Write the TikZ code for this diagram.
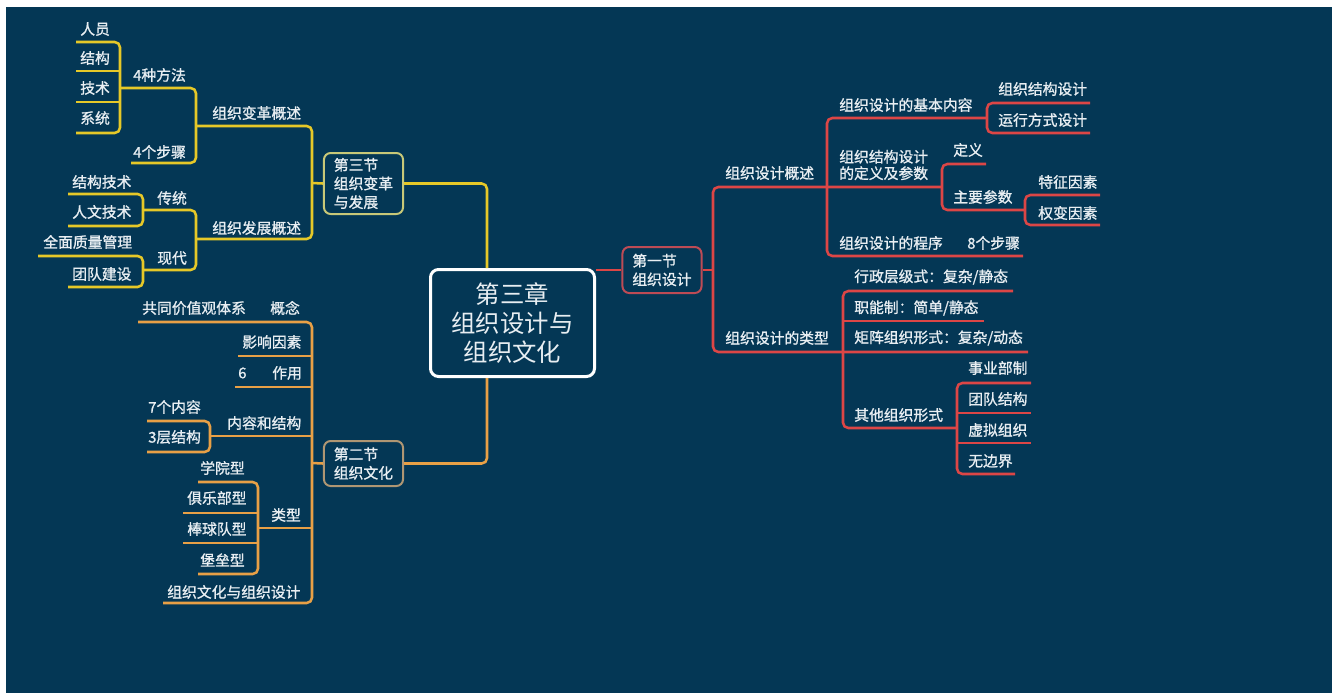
\documentclass[tikz,border=0pt]{standalone}
\usepackage{fontspec}
\newfontfamily\cjk[FakeBold=1.1]{Noto Sans CJK SC}
\newfontfamily\cjkl{Noto Sans CJK SC}
\definecolor{bg}{RGB}{4,55,85}
\definecolor{txt}{RGB}{232,238,242}
\definecolor{yl}{RGB}{230,200,40}
\definecolor{og}{RGB}{232,160,70}
\definecolor{rdc}{RGB}{220,70,70}
\definecolor{yb}{RGB}{200,200,120}
\definecolor{ob}{RGB}{175,150,115}
\definecolor{rb}{RGB}{190,75,85}
\tikzset{
 lbl/.style={anchor=west, inner sep=0pt, text=txt, font=\cjk\fontsize{11.1}{12.4}\selectfont},
 ylw/.style={draw=yl, line width=1.9pt, rounded corners=4pt},
 org/.style={draw=og, line width=1.9pt, rounded corners=4pt},
 rdl/.style={draw=rdc, line width=1.9pt, rounded corners=4pt},
 secbox/.style={draw=#1, line width=1.5pt, rounded corners=5pt, fill=bg, text=txt,
   align=left, text width=44.5pt, inner xsep=7.4pt, inner ysep=0pt,
   font=\cjk\fontsize{11.1}{14}\selectfont},
 mainbox/.style={draw=white, line width=2.25pt, rounded corners=6pt, fill=bg, text=txt,
   align=center, minimum width=123pt, minimum height=80.25pt, inner sep=0pt,
   font=\cjkl\fontsize{18.3}{21.75}\selectfont}
}
\begin{document}
\begin{tikzpicture}[x=0.75pt,y=-0.75pt]
\useasboundingbox (0,0) rectangle (1332,693);
\fill[white] (0,0) rectangle (1332,693);
\fill[bg] (6,7) rectangle (1332,693);

% central and section nodes
\node[mainbox] (M) at (512.5,323) {第三章\\组织设计与\\组织文化};
\node[secbox=yb, minimum height=45.75pt] (S3) at (363.5,183.5) {第三节\\组织变革\\与发展};
\node[secbox=ob, minimum height=33.75pt] (S2) at (363.5,463.5) {第二节\\组织文化};
\node[secbox=rb, minimum height=34.5pt] (S1) at (662,270) {第一节\\组织设计};
\coordinate (yx) at (487,0);
\coordinate (rv) at (713,0);

% main connectors
\draw[ylw] (S3.east) -| (M.north -| yx);
\draw[org] (S2.east) -| (M.south -| yx);
\draw[rdl] (S1.west) -- (S1.west -| M.east);
\draw[rdl] (S1.east) -- (S1.east -| rv);

% ---------- right side (red) ----------
\node[lbl] (r1) at (725,173) {组织设计概述};
\node[lbl] (r2) at (725,338) {组织设计的类型};
\node[lbl] (r11) at (839,105) {组织设计的基本内容};
\node[lbl, align=left] (r12) at (839,165) {组织结构设计\\的定义及参数};
\node[lbl] (r13) at (839,243) {组织设计的程序};
\node[lbl] (r131) at (967,243) {8个步骤};
\node[lbl] (r111) at (998,89) {组织结构设计};
\node[lbl] (r112) at (998,120) {运行方式设计};
\node[lbl] (r121) at (953,150) {定义};
\node[lbl] (r122) at (953,197) {主要参数};
\node[lbl] (r1221) at (1038,182) {特征因素};
\node[lbl] (r1222) at (1038,213) {权变因素};
\node[lbl] (r21) at (854,277) {行政层级式：复杂/静态};
\node[lbl] (r22) at (854,308) {职能制：简单/静态};
\node[lbl] (r23) at (854,338) {矩阵组织形式：复杂/动态};
\node[lbl] (r24) at (854,415) {其他组织形式};
\node[lbl] (r241) at (968,368) {事业部制};
\node[lbl] (r242) at (968,399) {团队结构};
\node[lbl] (r243) at (968,430) {虚拟组织};
\node[lbl] (r244) at (968,461) {无边界};

\draw[rdl] (942,187) -- (713,187) -- (713,352) -- (1028,352);
\draw[rdl] (987,118) -- (827,118) -- (827,256) -- (1023,256);
\draw[rdl] (1090,103) -- (987,103) -- (987,133) -- (1090,133);
\draw[rdl] (986,164) -- (942,164) -- (942,210) -- (1025,210);
\draw[rdl] (1100,195) -- (1025,195) -- (1025,225) -- (1100,225);
\draw[rdl] (1013,291) -- (843,291) -- (843,428) -- (957,428);
\draw[rdl] (843,321) -- (984,321);
\draw[rdl] (1031,383) -- (957,383) -- (957,474) -- (1015,474);
\draw[rdl] (957,413) -- (1031,413);
\draw[rdl] (957,443) -- (1031,443);

% ---------- left top (yellow) ----------
\node[lbl] (y1) at (212,113) {组织变革概述};
\node[lbl] (y2) at (212,228) {组织发展概述};
\node[lbl] (y11) at (133,75) {4种方法};
\node[lbl] (y12) at (133,152) {4个步骤};
\node[lbl] (y111) at (80,29) {人员};
\node[lbl] (y112) at (80,58) {结构};
\node[lbl] (y113) at (80,88) {技术};
\node[lbl] (y114) at (80,118) {系统};
\node[lbl] (y21) at (157,198) {传统};
\node[lbl] (y22) at (157,258) {现代};
\node[lbl] (y211) at (72,182) {结构技术};
\node[lbl] (y212) at (72,212) {人文技术};
\node[lbl] (y221) at (43,242) {全面质量管理};
\node[lbl] (y222) at (72,274) {团队建设};

\draw[ylw] (S3.west) -- (312,183);
\draw[ylw] (196,126) -- (312,126) -- (312,239) -- (196,239);
\draw[ylw] (120,88) -- (196,88) -- (196,163) -- (131,163);
\draw[ylw] (76,42) -- (120,42) -- (120,133) -- (76,133);
\draw[ylw] (76,71) -- (120,71);
\draw[ylw] (76,102) -- (120,102);
\draw[ylw] (143,210) -- (196,210) -- (196,270) -- (143,270);
\draw[ylw] (68,194) -- (143,194) -- (143,226) -- (68,226);
\draw[ylw] (38,256) -- (143,256) -- (143,287) -- (68,287);

% ---------- left bottom (orange) ----------
\node[lbl] (o0) at (142,308) {共同价值观体系};
\node[lbl] (o1) at (270,308) {概念};
\node[lbl] (o2) at (242,342) {影响因素};
\node[lbl] (o30) at (238,373) {6};
\node[lbl] (o3) at (272,373) {作用};
\node[lbl] (o4) at (227,423) {内容和结构};
\node[lbl] (o41) at (148,407) {7个内容};
\node[lbl] (o42) at (148,437) {3层结构};
\node[lbl] (o5) at (271,515) {类型};
\node[lbl] (o51) at (200,468) {学院型};
\node[lbl] (o52) at (187,498) {俱乐部型};
\node[lbl] (o53) at (187,529) {棒球队型};
\node[lbl] (o54) at (200,560) {堡垒型};
\node[lbl] (o6) at (167,592) {组织文化与组织设计};

\draw[org] (S2.west) -- (312,463);
\draw[org] (138,322) -- (312,322) -- (312,603) -- (163,603);
\draw[org] (238,356) -- (312,356);
\draw[org] (235,387) -- (312,387);
\draw[org] (147,421) -- (210,421) -- (210,452) -- (147,452);
\draw[org] (210,436) -- (312,436);
\draw[org] (198,482) -- (258,482) -- (258,574) -- (198,574);
\draw[org] (183,513) -- (258,513);
\draw[org] (183,543) -- (258,543);
\draw[org] (258,528) -- (312,528);
\end{tikzpicture}
\end{document}
